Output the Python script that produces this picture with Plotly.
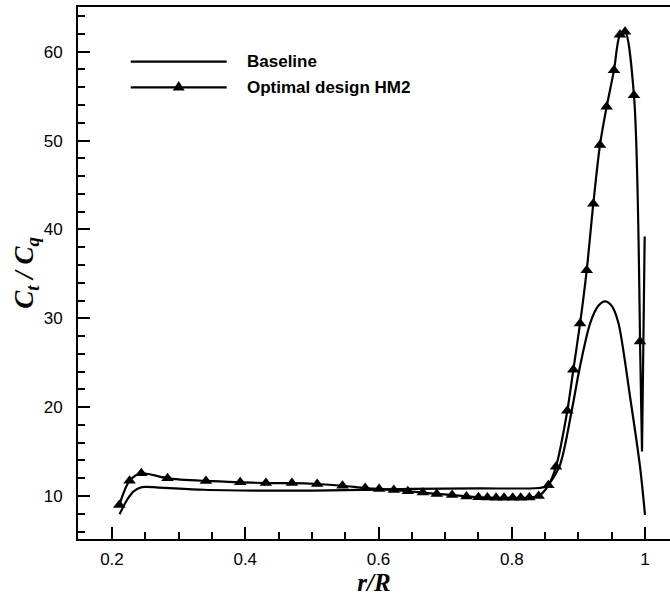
import plotly.graph_objects as go

# ---- data ----
baseline_x = [0.2114, 0.2225, 0.232, 0.245, 0.27, 0.337, 0.4587, 0.55, 0.65, 0.75, 0.84,
              0.852, 0.8714, 0.89, 0.9014, 0.9175, 0.93, 0.94, 0.95, 0.96, 0.9775, 0.9925, 1.0]
baseline_y = [7.95, 9.55, 10.5, 11.0, 10.95, 10.7, 10.6, 10.65, 10.8, 10.85, 10.9,
              11.1, 13.3, 19.6, 24.2, 29.4, 31.4, 31.9, 31.4, 29.5, 21.2, 13.3, 7.86]

hm2_x = [0.211, 0.2264, 0.244, 0.2834, 0.341, 0.3925, 0.431, 0.47, 0.508, 0.546, 0.58,
         0.601, 0.623, 0.644, 0.6665, 0.6875, 0.7105, 0.732, 0.75, 0.7634, 0.7764, 0.7884,
         0.8014, 0.8134, 0.8264, 0.8404, 0.855, 0.8664, 0.8834, 0.8924, 0.9025, 0.9125,
         0.9224, 0.9324, 0.9424, 0.9534, 0.9624, 0.97, 0.9834, 0.9925]
hm2_y = [8.99, 11.72, 12.55, 11.99, 11.69, 11.54, 11.46, 11.45, 11.35, 11.15, 10.9,
         10.8, 10.68, 10.53, 10.38, 10.23, 10.11, 9.95, 9.87, 9.82, 9.8, 9.8,
         9.8, 9.8, 9.83, 10.0, 11.2, 13.3, 19.6, 24.2, 29.4, 35.4,
         42.9, 49.5, 53.8, 57.9, 61.9, 62.25, 55.1, 27.4]

# tip of the optimal-design curve (plotted without symbols)
hm2_tip_x = [0.9925, 0.9955, 0.9995]
hm2_tip_y = [27.4, 15.0, 39.2]

x_tickvals = [0.2, 0.4, 0.6, 0.8, 1.0]
x_ticktext = ["0.2", "0.4", "0.6", "0.8", "1"]
y_tickvals = [10, 20, 30, 40, 50, 60]
y_ticktext = ["10", "20", "30", "40", "50", "60"]

series_names = ["Baseline", "Optimal design HM2"]

# ---- figure ----
fig = go.Figure()
fig.add_trace(go.Scatter(x=baseline_x, y=baseline_y, mode="lines", name=series_names[0],
                         line=dict(color="black", width=2.2, shape="spline", smoothing=0.8),
                         showlegend=False))
fig.add_trace(go.Scatter(x=hm2_x, y=hm2_y, mode="lines+markers", name=series_names[1],
                         line=dict(color="black", width=2.2, shape="spline", smoothing=0.8),
                         marker=dict(symbol="triangle-up", size=11, color="black",
                                     line=dict(width=0)),
                         showlegend=False))
fig.add_trace(go.Scatter(x=hm2_tip_x, y=hm2_tip_y, mode="lines", name=series_names[1],
                         line=dict(color="black", width=2.2), showlegend=False))

# ---- legend drawn in the plot area (top-left) ----
L, R, T, B = 78, 0, 7, 60
W, H = 670, 599
pw, ph = W - L - R, H - T - B


def px_x(p):
    return (p - L) / pw


def px_y(p):
    return (H - B - p) / ph


legend_rows = [61.7, 87.3]
for i, row in enumerate(legend_rows):
    fig.add_shape(type="line", xref="paper", yref="paper",
                  x0=px_x(130.7), x1=px_x(226.7), y0=px_y(row), y1=px_y(row),
                  line=dict(color="black", width=2.2))
    fig.add_annotation(xref="paper", yref="paper", x=px_x(245), y=px_y(row),
                       xanchor="left", yanchor="middle", showarrow=False,
                       text="<b>%s</b>" % series_names[i],
                       font=dict(family="Liberation Sans, Arial", size=17, color="black"))
fig.add_shape(type="path", xref="paper", yref="paper",
              xsizemode="pixel", ysizemode="pixel",
              xanchor=px_x(178.7), yanchor=px_y(legend_rows[1]),
              path="M-6,-3.2 L6,-3.2 L0,6.3 Z",
              fillcolor="black", line=dict(width=0))

axis_font = dict(family="Liberation Sans, Arial", size=17, color="black")
xtitle_font = dict(family="Liberation Serif, Times New Roman", size=25, color="black")
ytitle_font = dict(family="Liberation Serif, Times New Roman", size=27, color="black")

fig.update_layout(
    width=W, height=H,
    margin=dict(l=L, r=R, t=T, b=B, autoexpand=False),
    plot_bgcolor="white", paper_bgcolor="white",
    showlegend=False,
    xaxis=dict(range=[0.149, 1.0375], showline=True, linecolor="black", linewidth=2,
               mirror=True, ticks="inside", ticklen=12, tickwidth=2, tickcolor="black",
               tickvals=x_tickvals, ticktext=x_ticktext, tickfont=axis_font,
               ticklabelstandoff=4, showgrid=False, zeroline=False,
               minor=dict(ticks="inside", ticklen=7, tickwidth=1.5, tickcolor="black",
                          dtick=0.05, tick0=0, showgrid=False),
               title=dict(text="<b><i>r/R</i></b>", font=xtitle_font, standoff=4)),
    yaxis=dict(range=[5.16, 65.03], showline=True, linecolor="black", linewidth=2,
               mirror=False, ticks="inside", ticklen=12, tickwidth=2, tickcolor="black",
               tickvals=y_tickvals, ticktext=y_ticktext, tickfont=axis_font,
               ticklabelstandoff=10, showgrid=False, zeroline=False,
               minor=dict(ticks="inside", ticklen=7, tickwidth=1.5, tickcolor="black",
                          dtick=2, tick0=0, showgrid=False),
               title=dict(text="<b><i>C<sub>t</sub> / C<sub>q</sub></i></b>",
                          font=ytitle_font, standoff=2)),
)

fig.write_html("out.html",
               config={"displayModeBar": False},
               post_script="document.body.style.margin='0';document.body.style.overflow='hidden';")
